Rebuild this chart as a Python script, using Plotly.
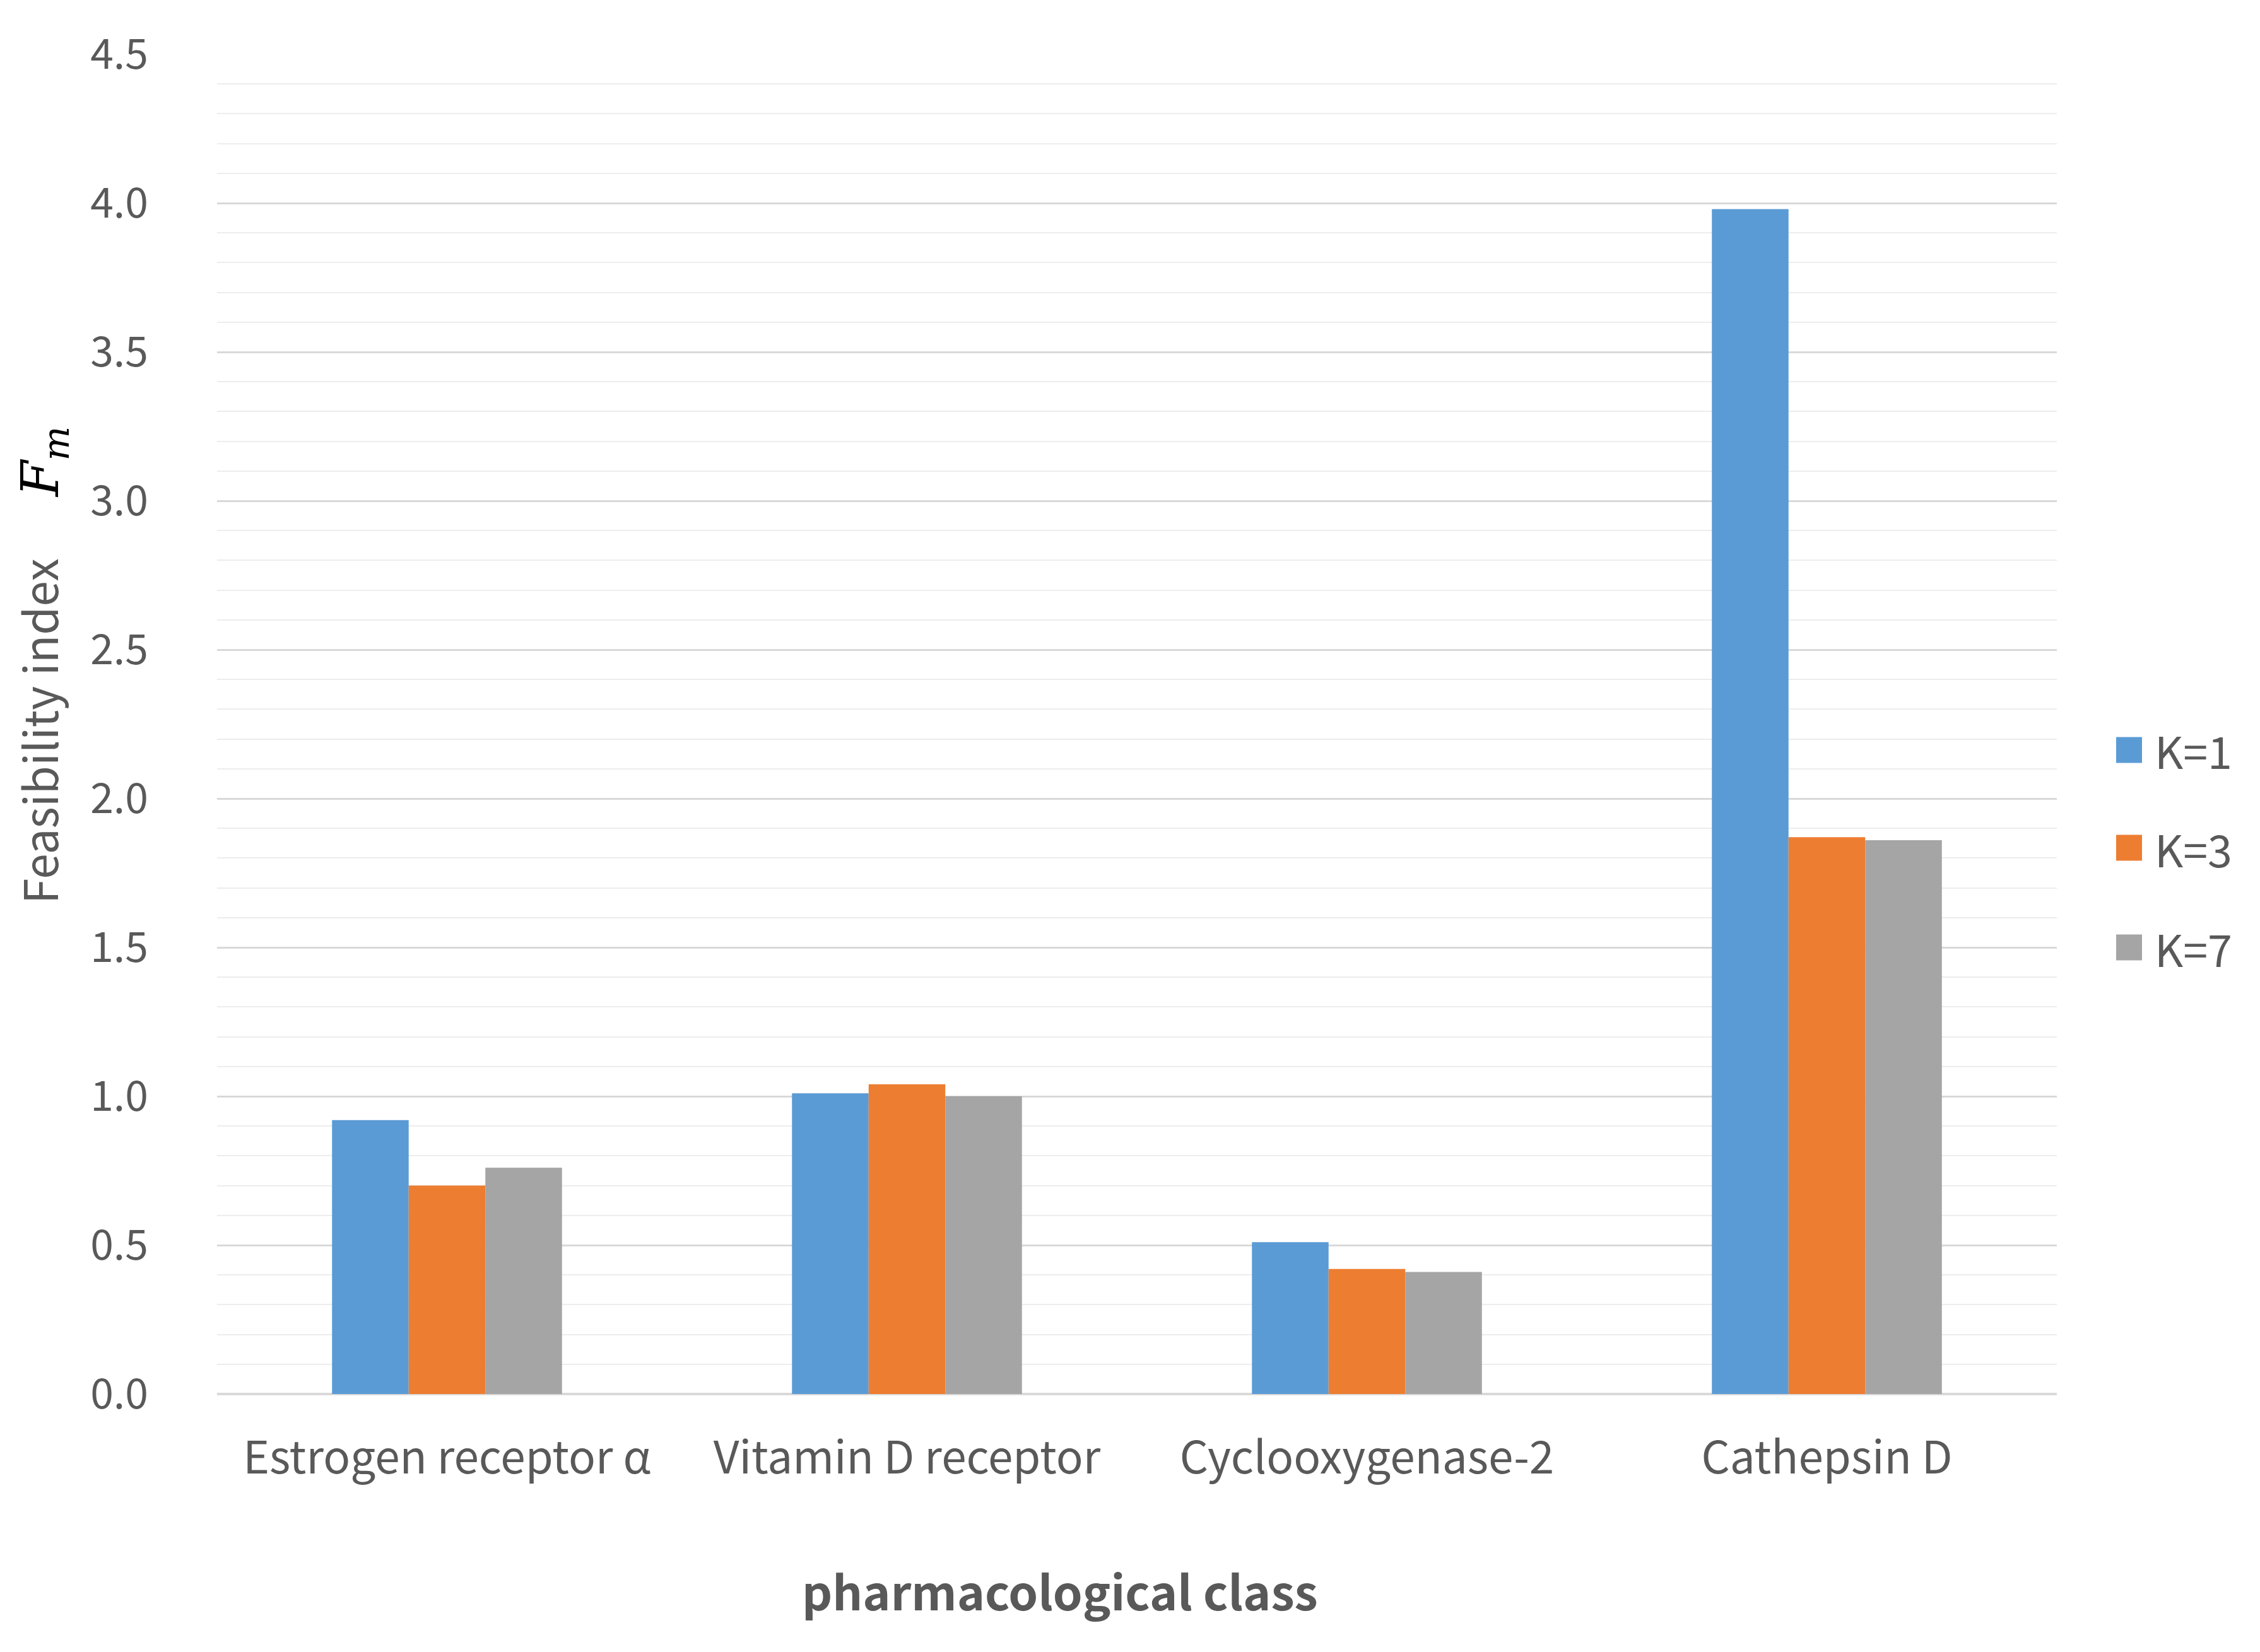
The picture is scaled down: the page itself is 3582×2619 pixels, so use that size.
import plotly.graph_objects as go

categories = ["Estrogen receptor α", "Vitamin D receptor", "Cyclooxygenase-2", "Cathepsin D"]
series_names = ["K=1", "K=3", "K=7"]
k1_values = [0.92, 1.01, 0.51, 3.98]
k3_values = [0.70, 1.04, 0.42, 1.87]
k7_values = [0.76, 1.00, 0.41, 1.86]
colors = ["#5B9BD5", "#ED7D31", "#A5A5A5"]
y_ticks = [0.0, 0.5, 1.0, 1.5, 2.0, 2.5, 3.0, 3.5, 4.0, 4.5]

series_values = [k1_values, k3_values, k7_values]
text_color = "#595959"
font_family = "Noto Sans CJK KR, Noto Sans, sans-serif"

fig = go.Figure()
for name, vals, col in zip(series_names, series_values, colors):
    fig.add_trace(go.Bar(x=categories, y=vals, name=name, marker=dict(color=col, line=dict(width=0)),
                         showlegend=False))

W, H = 3582, 2619
ml, mr, mt, mb = 336, 330, 78, 417
pw = W - ml - mr
ph = H - mt - mb
base = H - mb  # pixel row of the y=0 line


def px_x(x):
    return (x - ml) / pw


def px_y(y):
    return (base - y) / ph


fig.update_layout(
    width=W, height=H,
    margin=dict(l=ml, r=mr, t=mt, b=mb),
    paper_bgcolor="white", plot_bgcolor="white",
    barmode="group", bargap=0.5, bargroupgap=0.0,
    font=dict(family=font_family, color=text_color, size=60),
)
fig.update_xaxes(
    showgrid=False, showline=False, zeroline=False,
    ticks="outside", ticklen=40, tickcolor="rgba(0,0,0,0)",
    tickfont=dict(size=71, color=text_color, family=font_family),
)
fig.update_yaxes(
    range=[0, 4.5], tickvals=y_ticks, ticktext=[f"{v:.1f}" for v in y_ticks],
    showgrid=True, gridcolor="#D9D9D9", gridwidth=3,
    zeroline=True, zerolinecolor="#D9D9D9", zerolinewidth=4,
    showline=False,
    ticks="outside", ticklen=95, tickcolor="rgba(0,0,0,0)",
    tickfont=dict(size=66, color=text_color, family=font_family),
    minor=dict(dtick=0.1, showgrid=True, gridcolor="#EDEDED", gridwidth=2),
)

# axis titles
fig.add_annotation(
    xref="paper", yref="paper", x=px_x(57), y=px_y(1047),
    xanchor="center", yanchor="middle", textangle=-90, showarrow=False,
    text=("Feasibility index      "
          "<span style=\"font-family:DejaVu Serif;font-size:82px;color:#000000\"><i>F</i></span>"
          "<span style=\"font-family:DejaVu Serif;font-size:82px;color:#000000\"><sub><i>m</i></sub></span>"),
    font=dict(size=73, color=text_color, family=font_family),
)
fig.add_annotation(
    xref="paper", yref="paper", x=px_x(1672), y=px_y(2512),
    xanchor="center", yanchor="middle", showarrow=False,
    text="<b>pharmacological class</b>",
    font=dict(size=75, color=text_color, family=font_family),
)

# legend (drawn with shapes + text)
leg_y_px = [1181, 1336, 1494]
sq = 41
for name, col, ypx in zip(series_names, colors, leg_y_px):
    yc = px_y(ypx)
    fig.add_shape(type="rect", xref="paper", yref="paper",
                  x0=px_x(3346), x1=px_x(3346 + sq),
                  y0=yc - sq / 2 / ph, y1=yc + sq / 2 / ph,
                  fillcolor=col, line=dict(width=0))
    fig.add_annotation(xref="paper", yref="paper", x=px_x(3405), y=yc,
                       xanchor="left", yanchor="middle", showarrow=False, text=name,
                       font=dict(size=70, color=text_color, family=font_family))

fig.write_html("out.html")
